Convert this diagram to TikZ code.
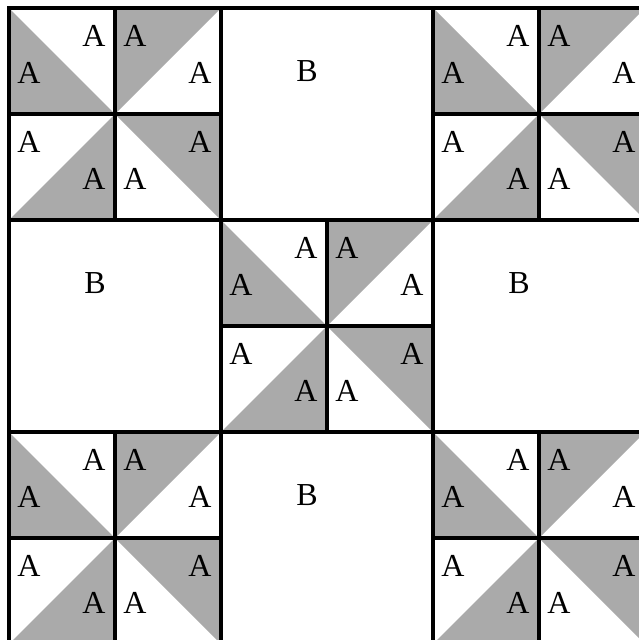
\documentclass[tikz,border=0pt]{standalone}
\usepackage{fontspec}
\setmainfont{Liberation Serif}
\definecolor{shade}{RGB}{170,170,170}
\begin{document}
\begin{tikzpicture}[x=1pt,y=-1pt,
  lab/.style={inner sep=0pt},
  gridline/.style={line width=3.2pt,line cap=rect},
  tri/.style={fill=shade}]
\useasboundingbox (0,0) rectangle (639,640);
\clip (0,0) rectangle (639,640);
\fill[white] (0,0) rectangle (639,640);
\def\s{106}
\def\A{\fontsize{32}{34}\selectfont A}
\def\B{\fontsize{32}{34}\selectfont B}
% pinwheel blocks
\foreach \X/\Y/\n in {9/8/p1, 433/8/p2, 221/220/p3, 9/432/p4, 433/432/p5}{
  \fill[tri] (\X,\Y) -- (\X,\Y+\s) -- (\X+\s,\Y+\s) -- cycle;
  \fill[tri] (\X+\s,\Y) -- (\X+2*\s,\Y) -- (\X+\s,\Y+\s) -- cycle;
  \fill[tri] (\X+\s,\Y+\s) -- (\X+\s,\Y+2*\s) -- (\X,\Y+2*\s) -- cycle;
  \fill[tri] (\X+\s,\Y+\s) -- (\X+2*\s,\Y+\s) -- (\X+2*\s,\Y+2*\s) -- cycle;
  \node[lab] (\n-a1) at (\X+85,\Y+28) {\A};
  \node[lab] (\n-a2) at (\X+20,\Y+65) {\A};
  \node[lab] (\n-b1) at (\X+\s+20,\Y+28) {\A};
  \node[lab] (\n-b2) at (\X+\s+85,\Y+65) {\A};
  \node[lab] (\n-c1) at (\X+20,\Y+\s+28) {\A};
  \node[lab] (\n-c2) at (\X+85,\Y+\s+65) {\A};
  \node[lab] (\n-d1) at (\X+\s+85,\Y+\s+28) {\A};
  \node[lab] (\n-d2) at (\X+\s+20,\Y+\s+65) {\A};
  \draw[gridline] (\X+\s,\Y) -- (\X+\s,\Y+2*\s);
  \draw[gridline] (\X,\Y+\s) -- (\X+2*\s,\Y+\s);
}
% plain blocks
\node[lab] (q1) at (221+86,8+63) {\B};
\node[lab] (q2) at (9+86,220+63) {\B};
\node[lab] (q3) at (433+86,220+63) {\B};
\node[lab] (q4) at (221+86,432+63) {\B};
% block borders
\foreach \X in {9,221,433}{
  \foreach \Y in {8,220,432}{
    \draw[gridline] (\X,\Y) rectangle ++(212,212);
  }
}
\end{tikzpicture}
\end{document}
